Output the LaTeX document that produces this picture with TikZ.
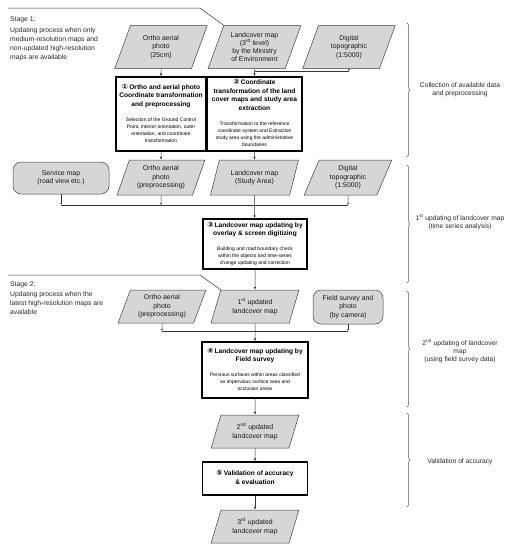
\documentclass[tikz,border=0pt]{standalone}
\usepackage{fontspec}
\setmainfont{Liberation Sans}
\newfontfamily\djv{DejaVu Sans}
\usetikzlibrary{shapes.geometric,arrows.meta,decorations.pathreplacing,calc}
\newcommand{\cn}[1]{{\djv\bfseries\fontsize{7.4}{8.5}\selectfont #1}\,}
\tikzset{
  para/.style={trapezium, trapezium left angle=68, trapezium right angle=112,
    trapezium stretches=true, draw=black!75, fill=black!16, line width=0.5pt,
    inner sep=0pt, minimum width=88pt, minimum height=33pt, align=center,
    font=\fontsize{6.9}{8.3}\selectfont, text=black!90},
  tallpara/.style={para, minimum width=93pt, minimum height=43pt},
  rbox/.style={draw=black!75, fill=black!16, rounded corners=8pt, line width=0.5pt,
    inner sep=0pt, align=center, font=\fontsize{6.9}{8.3}\selectfont, text=black!90},
  stepbox/.style={draw=black, line width=1.3pt, fill=white, inner sep=0pt, text=black,
    font=\fontsize{5}{6}\selectfont},
  arr/.style={-{Latex[length=3pt,width=2.4pt]}, line width=0.5pt, draw=black!80},
  tk/.style={-{Latex[length=2pt,width=1.8pt]}, line width=0.5pt, draw=black!80},
  ln/.style={line width=0.5pt, draw=black!80},
  brc/.style={decorate, decoration={brace, amplitude=3pt}, draw=black!65, line width=0.5pt},
  lbl/.style={font=\fontsize{6.7}{8}\selectfont, align=center, text=black!85},
  stage/.style={font=\fontsize{6.8}{9}\selectfont, align=left, text=black!85, anchor=north west, inner sep=0pt}
}
\newcommand{\bt}[1]{{\fontsize{6.6}{8.5}\selectfont\bfseries\begin{tabular}[b]{@{}c@{}}#1\end{tabular}}}
\newcommand{\btc}[1]{{\fontsize{6.6}{8.5}\selectfont\bfseries\begin{tabular}{@{}c@{}}#1\end{tabular}}}
\newcommand{\bd}[1]{{\fontsize{5}{7.2}\selectfont\begin{tabular}[t]{@{}c@{}}#1\end{tabular}}}
\newcommand{\tb}[2]{\begin{tabular}{@{}c@{}}\bt{#1}\\[8pt]\bd{#2}\end{tabular}}
\begin{document}
\begin{tikzpicture}[x=1pt,y=-1pt]
\useasboundingbox (0,0) rectangle (510,550);

% Stage texts and callout lines
\node[stage] (st1) at (10,17) {Stage 1:\\[2pt]Updating process when only\\medium-resolution maps and\\non-updated high-resolution\\maps are available};
\node[stage] (st2) at (10,282) {Stage 2:\\[0.5pt]Updating process when the\\latest high-resolution maps are\\available};

% Row 1
\node[tallpara] (p1a) at (161,47) {Ortho aerial\\photo\\(25cm)};
\node[tallpara] (p1b) at (254.5,47) {Landcover map\\(3\textsuperscript{rd} level)\\by the Ministry\\of Environment};
\node[tallpara] (p1c) at (349,47) {Digital\\topographic\\(1:5000)};

\draw[ln] (8,8) -- (200,8) -- (p1b.top left corner);

% Boxes 1,2
\node[stepbox, minimum width=90pt, minimum height=74pt] (b1) at (161,114)
  {\tb{\cn{①}Ortho and aerial photo\\Coordinate transformation\\and preprocessing}{Selection of the Ground Control\\Point, interior orientation, outer\\orientation, and coordinate\\transformation}};
\node[stepbox, minimum width=95pt, minimum height=74pt] (b2) at (254.5,114)
  {\tb{\cn{②}Coordinate\\transformation of the land\\cover maps and study area\\extraction}{Transformation to the reference\\coordinate system and Extraction\\study area using the administrative\\boundaries}};

\coordinate (j1) at (254.5,71);
\draw[arr] (p1a) -- (b1);
\draw[arr] (p1b) -- (b2);
\draw[tk] (p1c) -- (p1c |- j1);
\draw[ln] (p1c |- j1) -- (j1);

% Row 2
\node[rbox, minimum width=96pt, minimum height=32pt] (s1) at (61,178) {Service map\\(road view etc.)};
\node[para, minimum height=35pt] (p2a) at (161,177.5) {Ortho aerial\\photo\\(preprocessing)};
\node[para, minimum height=35pt] (p2b) at (254.5,177.5) {Landcover map\\(Study Area)};
\node[para, minimum height=35pt] (p2c) at (348,177.5) {Digital\\topographic\\(1:5000)};

\draw[arr] (b1) -- (p2a);
\draw[arr] (b2) -- (p2b);

\node[stepbox, minimum width=104pt, minimum height=50pt] (b3) at (255,244)
  {\tb{\cn{③}Landcover map updating by\\overlay \& screen digitizing}{Building and road boundary check\\within the objects and time-series\\change updating and correction}};

\coordinate (bus1) at (254.5,205);
\draw[tk] (s1) -- (s1 |- bus1);
\draw[tk] (p2a) -- (p2a |- bus1);
\draw[tk] (p2c) -- (p2c |- bus1);
\draw[ln] (s1 |- bus1) -- (p2c |- bus1);
\draw[arr] (p2b) -- (p2b |- b3.north);

% Row 3
\node[para] (p3a) at (162,306.5) {Ortho aerial\\photo\\(preprocessing)};
\node[para] (p3b) at (255,306.5) {1\textsuperscript{st} updated\\landcover map};
\node[rbox, minimum width=70pt, minimum height=34pt] (r3c) at (348,307) {Field survey and\\photo\\(by camera)};

\draw[ln] (8,275) -- (200,275) -- (p3b.top left corner);
\draw[arr] (b3.south -| p3b) -- (p3b);

\node[stepbox, minimum width=106pt, minimum height=56pt] (b4) at (255,370)
  {\tb{\cn{④}Landcover map updating by\\Field survey}{Pervious surfaces within areas classified\\as impervious surface area and\\occlusion areas}};

\coordinate (bus2) at (255,331);
\draw[tk] (p3a) -- (p3a |- bus2);
\draw[tk] (r3c) -- (r3c |- bus2);
\draw[ln] (p3a |- bus2) -- (r3c |- bus2);
\draw[arr] (p3b) -- (b4);

% Rows 4-5
\node[para] (p4) at (255,431.5) {2\textsuperscript{nd} updated\\landcover map};
\node[stepbox, minimum width=105pt, minimum height=33pt] (b5) at (255,478.5)
  {\btc{\cn{⑤}Validation of accuracy\\\& evaluation}};
\node[para] (p5) at (255,526.5) {3\textsuperscript{rd} updated\\landcover map};

\draw[arr] (b4) -- (p4);
\draw[arr] (p4) -- (b5);
\draw[arr] (b5) -- (p5);

% Braces and labels
\draw[brc] (407,23) -- (407,157);
\draw[brc] (407,165) -- (407,283);
\draw[brc] (407,291) -- (407,407);
\draw[brc] (407,413) -- (407,507);
\node[lbl] (l1) at (460,90) {Collection of available data\\and preprocessing};
\node[lbl] (l2) at (460,222) {1\textsuperscript{st} updating of landcover map\\(time series analysis)};
\node[lbl] (l3) at (460,351) {2\textsuperscript{nd} updating of landcover\\map\\(using field survey data)};
\node[lbl] (l4) at (460,462) {Validation of accuracy};
\end{tikzpicture}
\end{document}
